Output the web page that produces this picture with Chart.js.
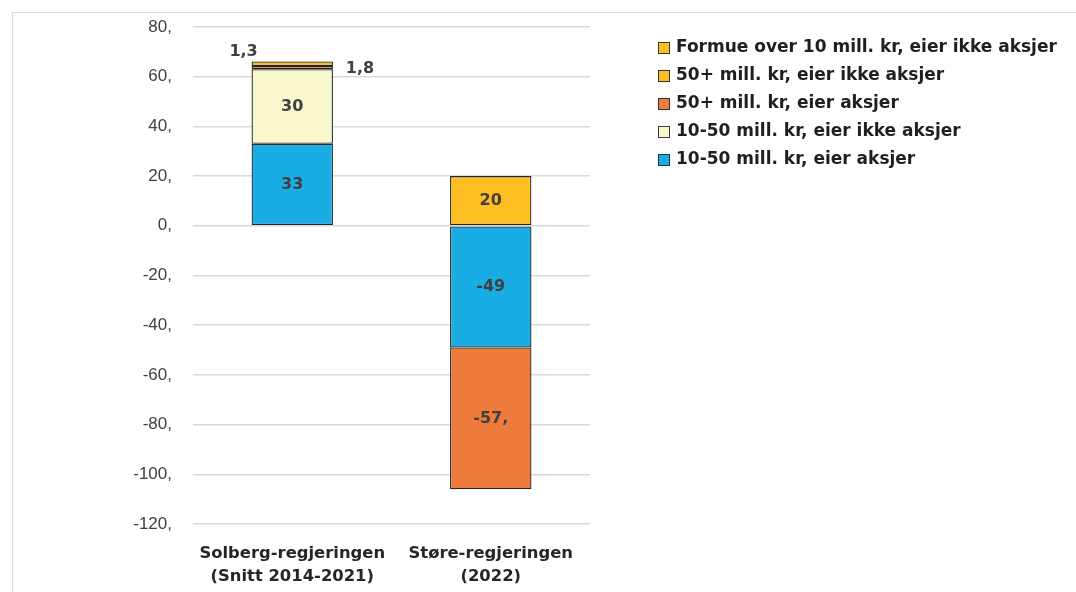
<!DOCTYPE html>
<html>
<head>
<meta charset="utf-8">
<script src="https://cdn.jsdelivr.net/npm/chart.js@4.4.1/dist/chart.umd.min.js"></script>
<style>
    html, body { margin: 0; padding: 0; background: #fff; }
    #wrap { position: relative; width: 1076px; height: 592px; overflow: hidden; }
    #frame { position: absolute; left: 12px; top: 12px; width: 2000px; height: 2000px;
             border-top: 1px solid #d9d9d9; border-left: 1px solid #d9d9d9; }
    canvas { position: absolute; left: 0; top: 0; }
</style>
</head>
<body>
<div id="wrap">
    <div id="frame"></div>
    <canvas id="myChart" width="1076" height="592"></canvas>
</div>
<script>

const categories = [
    ["Solberg-regjeringen", "(Snitt 2014-2021)"],
    ["Støre-regjeringen", "(2022)"]
];

// bottom of stack first
const seriesNames = [
    "10-50 mill. kr, eier aksjer",
    "10-50 mill. kr, eier ikke aksjer",
    "50+ mill. kr, eier aksjer",
    "50+ mill. kr, eier ikke aksjer",
    "Formue over 10 mill. kr, eier ikke aksjer"
];
const seriesColors = ["#1aade4", "#f7f7cb", "#ee7b3c", "#fdbe22", "#fdbe22"];

const aksjer1050 = [33, -49];
const ikkeAksjer1050 = [30, null];
const aksjer50 = [1.3, -57];
const ikkeAksjer50 = [1.8, null];
const formueOver10 = [null, 20];

// value labels as printed on the chart
const labelTexts = [
    ["33", "-49"],
    ["30", ""],
    ["1,3", "-57,"],
    ["1,8", ""],
    ["", "20"]
];

const yTicks = [80, 60, 40, 20, 0, -20, -40, -60, -80, -100, -120];

const boldFont = '"DejaVu Sans", sans-serif';

const valueLabels = {
    id: 'valueLabels',
    afterDatasetsDraw(chart) {
        const ctx = chart.ctx;
        ctx.save();
        ctx.font = 'bold 16px ' + boldFont;
        ctx.fillStyle = '#404040';
        ctx.textAlign = 'center';
        ctx.textBaseline = 'middle';
        chart.data.datasets.forEach((ds, di) => {
            chart.getDatasetMeta(di).data.forEach((bar, i) => {
                const txt = labelTexts[di][i];
                if (!txt) return;
                let x = bar.x, y = (bar.y + bar.base) / 2;
                if (Math.abs(bar.base - bar.y) < 10) {
                    // thin slices: label moved beside the bar
                    if (di == 2) { x = bar.x - bar.width / 2 - 8; y = bar.y - 14; }
                    else { x = bar.x + bar.width / 2 + 27; y = bar.base + 3; }
                }
                ctx.fillText(txt, x, y);
            });
        });
        ctx.restore();
    }
};

const sideLegend = {
    id: 'sideLegend',
    afterDraw(chart) {
        const ctx = chart.ctx;
        ctx.save();
        ctx.font = 'bold 17px ' + boldFont;
        ctx.textBaseline = 'middle';
        const list = chart.data.datasets.slice().reverse();
        list.forEach((ds, i) => {
            const y = 48 + i * 28;
            ctx.fillStyle = ds.backgroundColor;
            ctx.fillRect(658, y - 6, 12, 12);
            ctx.strokeStyle = '#333';
            ctx.lineWidth = 1;
            ctx.strokeRect(658.5, y - 5.5, 11, 11);
            ctx.fillStyle = '#1f1f1f';
            ctx.fillText(ds.label, 676, y);
        });
        ctx.restore();
    }
};

const seriesValues = [aksjer1050, ikkeAksjer1050, aksjer50, ikkeAksjer50, formueOver10];

const datasets = seriesNames.map((name, i) => ({
    label: name,
    data: seriesValues[i],
    backgroundColor: seriesColors[i],
    borderColor: '#262626',
    borderWidth: 1.3,
    borderSkipped: false,
    barPercentage: 0.41,
    categoryPercentage: 1
}));

new Chart(document.getElementById('myChart'), {
    type: 'bar',
    data: { labels: categories, datasets: datasets },
    options: {
        responsive: false,
        animation: false,
        layout: { padding: { left: 133, right: 486, top: 27, bottom: 4 } },
        plugins: {
            legend: { display: false },
            tooltip: { enabled: false }
        },
        scales: {
            x: {
                stacked: true,
                afterFit: (scale) => { scale.height = 64; },
                grid: { display: false, drawTicks: false },
                border: { display: false },
                ticks: {
                    color: '#262626',
                    padding: 18,
                    font: { family: boldFont, size: 16.4, weight: 'bold', lineHeight: 1.42 }
                }
            },
            y: {
                stacked: true,
                min: -120,
                max: 80,
                afterFit: (scale) => {
                    scale.width = 60;
                    // tick padding should not eat vertical space
                    scale.paddingTop = 0;
                    scale.paddingBottom = 0;
                },
                afterBuildTicks: (scale) => { scale.ticks = yTicks.map(v => ({ value: v })); },
                grid: { color: '#d9d9d9', lineWidth: 1.5, drawTicks: false },
                border: { display: false },
                ticks: {
                    color: '#404040',
                    padding: 21,
                    font: { family: '"Liberation Sans", Arial, sans-serif', size: 17 },
                    callback: (v) => v + ','
                }
            }
        }
    },
    plugins: [valueLabels, sideLegend]
});
</script>
</body>
</html>
